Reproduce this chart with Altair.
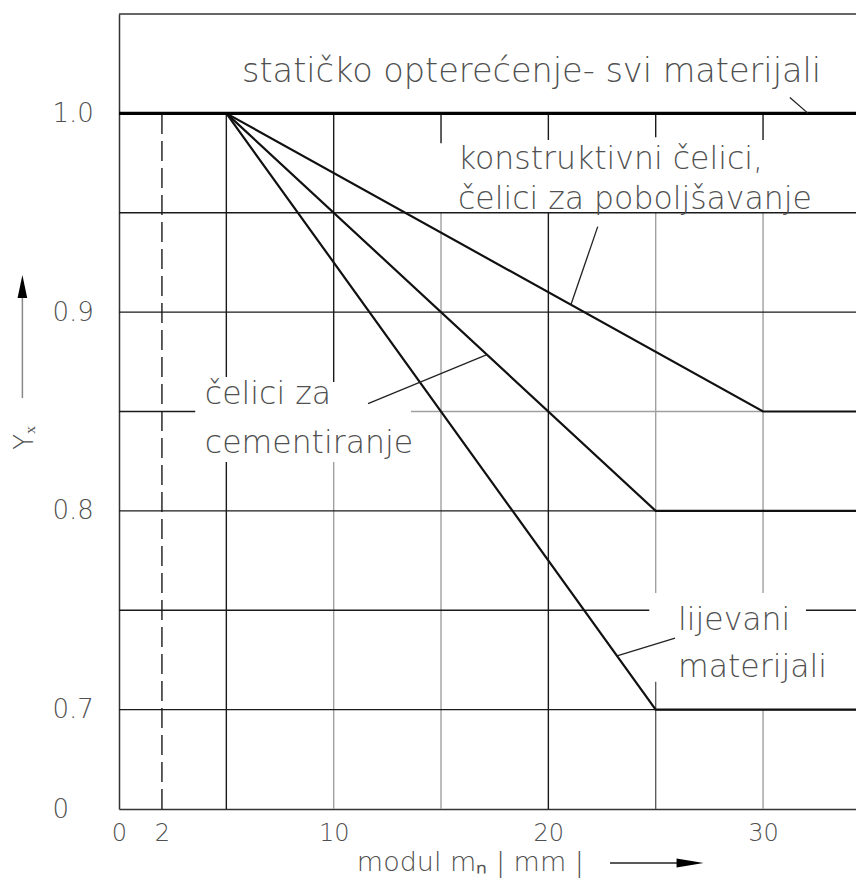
import altair as alt
import pandas as pd

XMAX = 34.33
FONT = "DejaVu Sans"
TXT = "#505050"

# ---- curves (modul m_n in mm, factor Y_x) ----
modul_static = [0, XMAX]
yx_static = [1.0, 1.0]
modul_konstr = [5, 30, XMAX]
yx_konstr = [1.0, 0.85, 0.85]
modul_cement = [5, 25, XMAX]
yx_cement = [1.0, 0.80, 0.80]
modul_lijev = [5, 25, XMAX]
yx_lijev = [1.0, 0.70, 0.70]

# ---- axis ticks ----
x_ticks = [0, 2, 10, 20, 30]
y_ticks = [0.65, 0.7, 0.8, 0.9, 1.0]

# ---- grid segments (data units) ----
grid_black_h = [(0.95, 0, XMAX), (0.90, 0, XMAX), (0.85, 0, 3.55), (0.80, 0, XMAX),
                (0.75, 0, 24.7), (0.75, 32.0, XMAX), (0.70, 0, XMAX)]
grid_gray_h = [(0.85, 13.6, 30)]
grid_black_v = [(5, 0.8674, 1.0), (5, 0.65, 0.8246), (10, 0.8648, 1.0), (15, 0.985, 1.0),
                (20, 0.9866, 1.0), (20, 0.65, 0.95), (25, 0.988, 1.0), (30, 0.9866, 1.0)]
grid_gray_v = [(10, 0.65, 0.8246), (15, 0.65, 0.95), (25, 0.7587, 0.95),
               (30, 0.7587, 0.95), (30, 0.65, 0.70)]
grid_dark_v = [(25, 0.65, 0.714)]
grid_dashed_v = [(2, 0.65, 1.0)]

# ---- annotations ----
title_label = [("statičko opterećenje- svi materijali", 5.73, 1.0158)]
labels = [
    ("konstruktivni čelici,", 15.79, 0.972),
    ("čelici za poboljšavanje", 15.79, 0.9519),
    ("čelici za", 4.0, 0.8538),
    ("cementiranje", 4.0, 0.8291),
    ("lijevani", 26.04, 0.7401),
    ("materijali", 26.04, 0.7164),
]
leaders = [
    (31.25, 1.008, 32.1, 1.0),
    (22.3, 0.943, 21.05, 0.9037),
    (11.6, 0.854, 17.14, 0.8786),
    (25.9, 0.736, 23.2, 0.727),
]
x_title = ("modul mₙ | mm |", 11.08, 0.619)
y_title = ("Yₓ", -4.4, 0.8367)
x_arrow = (22.87, 26.13, 0.6228, 26.6)   # x from, x to, y, head centre
y_arrow = (-4.5, 0.8568, 0.9101, 0.9129)  # x, y from, y to, head centre

xscale = alt.Scale(domain=[0, XMAX], nice=False, zero=False)
yscale = alt.Scale(domain=[0.65, 1.05], nice=False, zero=False)

X = alt.X("x:Q", scale=xscale, axis=alt.Axis(
    values=x_ticks, title=None, grid=False, ticks=False, tickSize=0, domain=True,
    domainColor="#333", domainWidth=1.5, labelFont=FONT, labelFontSize=24,
    labelColor=TXT, labelPadding=12, labelFlush=False, labelBaseline="top",
    labelFontWeight=300))
Y = alt.Y("y:Q", scale=yscale, axis=alt.Axis(
    values=y_ticks, title=None, grid=False, ticks=False, tickSize=0, domain=True,
    domainColor="#333", domainWidth=1.5, labelFont=FONT, labelFontSize=26,
    labelColor=TXT, labelPadding=67, labelAlign="left", labelBaseline="middle",
    labelFontWeight=300,
    labelExpr="datum.value < 0.66 ? '0' : format(datum.value, '.1f')"))


def hseg(segs):
    return pd.DataFrame([{"y": s[0], "x": s[1], "x2": s[2]} for s in segs])


def vseg(segs):
    return pd.DataFrame([{"x": s[0], "y": s[1], "y2": s[2]} for s in segs])


def hrules(segs, color, width):
    return alt.Chart(hseg(segs)).mark_rule(color=color, strokeWidth=width).encode(
        x=X, x2="x2:Q", y=Y)


def vrules(segs, color, width, dash=None):
    kw = {"color": color, "strokeWidth": width}
    if dash:
        kw["strokeDash"] = dash
    return alt.Chart(vseg(segs)).mark_rule(**kw).encode(x=X, y=Y, y2="y2:Q")


def texts(rows, size, **kw):
    df = pd.DataFrame([{"t": t, "x": x, "y": y} for t, x, y in rows])
    return alt.Chart(df).mark_text(font=FONT, fontSize=size, fontWeight=300,
                                   color=TXT, **kw).encode(x=X, y=Y, text="t:N")


layers = [
    hrules(grid_gray_h, "#a0a0a0", 1.4),
    vrules(grid_gray_v, "#a0a0a0", 1.4),
    vrules(grid_dark_v, "#555555", 1.3),
    hrules(grid_black_h, "#1a1a1a", 1.4),
    vrules(grid_black_v, "#1a1a1a", 1.4),
    vrules(grid_dashed_v, "#1a1a1a", 1.4, [20, 7]),
    # top frame
    hrules([(1.05, 0, XMAX)], "#333333", 1.5),
]

curves = [
    (modul_konstr, yx_konstr), (modul_cement, yx_cement), (modul_lijev, yx_lijev)
]
for mx, my in curves:
    df = pd.DataFrame({"x": mx, "y": my, "o": list(range(len(mx)))})
    layers.append(alt.Chart(df).mark_line(color="#111", strokeWidth=2.2).encode(
        x=X, y=Y, order="o:Q"))

layers.append(alt.Chart(pd.DataFrame({"x": modul_static, "y": yx_static})).mark_line(
    color="#000", strokeWidth=3.2).encode(x=X, y=Y))

# leaders
ldf = pd.DataFrame([{"x": a, "y": b, "x2": c, "y2": d} for a, b, c, d in leaders])
layers.append(alt.Chart(ldf).mark_rule(color="#222", strokeWidth=1.3).encode(
    x=X, y=Y, x2="x2:Q", y2="y2:Q"))

# annotation texts
layers.append(texts(title_label, 33.5, align="left", baseline="alphabetic"))
layers.append(texts(labels, 31.5, align="left", baseline="alphabetic"))

# axis titles
layers.append(texts([x_title], 27, align="left", baseline="alphabetic"))
layers.append(texts([y_title], 26, align="center", baseline="middle", angle=270))

# arrows
layers.append(alt.Chart(pd.DataFrame([{"x": x_arrow[0], "x2": x_arrow[1], "y": x_arrow[2]}]))
              .mark_rule(color="#222", strokeWidth=1.5).encode(x=X, x2="x2:Q", y=Y))
layers.append(alt.Chart(pd.DataFrame([{"x": x_arrow[3], "y": x_arrow[2]}]))
              .mark_point(shape="M1,0L-1,0.33L-1,-0.33Z", size=729, filled=True,
                          color="#000", opacity=1).encode(x=X, y=Y))
layers.append(alt.Chart(pd.DataFrame([{"x": y_arrow[0], "y": y_arrow[1], "y2": y_arrow[2]}]))
              .mark_rule(color="#888", strokeWidth=1.5).encode(x=X, y=Y, y2="y2:Q"))
layers.append(alt.Chart(pd.DataFrame([{"x": y_arrow[0], "y": y_arrow[3]}]))
              .mark_point(shape="M0,-1L0.42,1L-0.42,1Z", size=529, filled=True,
                          color="#000", opacity=1).encode(x=X, y=Y))

chart = alt.layer(*layers).properties(
    width=737, height=795,
    padding={"left": 111, "top": 6, "right": 0, "bottom": 71},
    autosize=alt.AutoSizeParams(type="none"),
    background="white",
).configure_view(stroke=None)

chart.save("out.html", embed_options={"renderer": "svg", "actions": False})
